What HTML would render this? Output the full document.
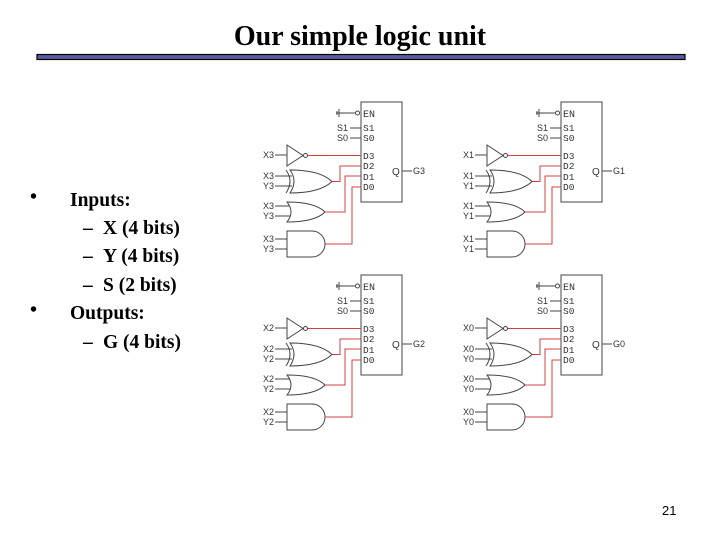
<!DOCTYPE html>
<html><head><meta charset="utf-8"><style>
html,body{margin:0;padding:0;background:#fff;}
body{width:720px;height:540px;overflow:hidden;}
</style></head><body>
<svg width="720" height="540" xmlns="http://www.w3.org/2000/svg">
<defs>
<g id="blk" font-family="Liberation Sans, sans-serif" font-size="9" fill="#333">
  <rect x="361" y="102" width="41" height="100" fill="none" stroke="#444" stroke-width="1"/>
  <line x1="336" y1="113" x2="355" y2="113" stroke="#444"/>
  <line x1="339" y1="109" x2="339" y2="117" stroke="#444"/>
  <line x1="337" y1="111" x2="337" y2="115" stroke="#444"/>
  <circle cx="357.5" cy="113" r="2" fill="#fff" stroke="#444"/>
  <text x="363" y="117" font-family="Liberation Mono, monospace" font-size="10">EN</text>
  <text x="337" y="131">S1</text><line x1="350" y1="128" x2="361" y2="128" stroke="#444"/>
  <text x="337" y="141">S0</text><line x1="350" y1="138" x2="361" y2="138" stroke="#444"/>
  <g font-family="Liberation Mono, monospace" font-size="9.5">
  <text x="363" y="131">S1</text><text x="363" y="141">S0</text>
  <text x="363" y="159">D3</text><text x="363" y="169">D2</text>
  <text x="363" y="180">D1</text><text x="363" y="190">D0</text>
  </g>
  <text x="392" y="175" font-size="10">Q</text>
  <line x1="402" y1="171" x2="412" y2="171" stroke="#444"/>
  <line x1="275" y1="155" x2="287" y2="155" stroke="#444"/>
  <path d="M287 145 L287 166 L303 155.5 Z" fill="#fff" stroke="#444"/>
  <circle cx="305.5" cy="155.5" r="2" fill="#fff" stroke="#444"/>
  <line x1="275" y1="176" x2="292" y2="176" stroke="#444"/>
  <line x1="275" y1="186" x2="292" y2="186" stroke="#444"/>
  <path d="M286 170 Q294 181 286 193" fill="none" stroke="#444"/>
  <path d="M290 170 Q320 170 332 181.5 Q320 193 290 193 Q298 181 290 170 Z" fill="#fff" stroke="#444"/>
  <line x1="275" y1="206" x2="291" y2="206" stroke="#444"/>
  <line x1="275" y1="216" x2="291" y2="216" stroke="#444"/>
  <path d="M287 202 Q315 202 325 212 Q315 222 287 222 Q295 212 287 202 Z" fill="#fff" stroke="#444"/>
  <line x1="275" y1="239" x2="287" y2="239" stroke="#444"/>
  <line x1="275" y1="249" x2="287" y2="249" stroke="#444"/>
  <path d="M287 231 L312 231 A13 13 0 0 1 312 257 L287 257 Z" fill="#fff" stroke="#444"/>
  <g fill="none" stroke="#d04040" stroke-width="1">
   <path d="M308 155.5 L361 155.5"/>
   <path d="M332 181.5 L340 181.5 L340 166 L361 166"/>
   <path d="M325 212 L345 212 L345 176 L361 176"/>
   <path d="M325 244 L352 244 L352 187 L361 187"/>
  </g>
</g>
</defs>

<text x="360" y="45" text-anchor="middle" font-family="Liberation Serif, serif" font-size="28" font-weight="bold">Our simple logic unit</text>
<rect x="37" y="54.5" width="648" height="5" fill="#5a5aa0" stroke="#000" stroke-width="1.2"/>

<g font-family="Liberation Serif, serif" font-size="19.5" font-weight="bold" fill="#000">
<text x="30" y="203" font-size="20">•</text><text x="70" y="206">Inputs:</text>
<text x="83" y="234">–</text><text x="103" y="234">X (4 bits)</text>
<text x="83" y="262">–</text><text x="103" y="262">Y (4 bits)</text>
<text x="83" y="291">–</text><text x="103" y="291">S (2 bits)</text>
<text x="30" y="316" font-size="20">•</text><text x="70" y="319">Outputs:</text>
<text x="83" y="348">–</text><text x="103" y="348">G (4 bits)</text>
</g>

<g font-family="Liberation Sans, sans-serif" font-size="9" fill="#333">
<use href="#blk"/>
<text x="263" y="158">X3</text><text x="263" y="179">X3</text><text x="263" y="189">Y3</text>
<text x="263" y="209">X3</text><text x="263" y="219">Y3</text><text x="263" y="242">X3</text><text x="263" y="252">Y3</text>
<text x="413" y="174">G3</text>

<use href="#blk" transform="translate(200,0)"/>
<text x="463" y="158">X1</text><text x="463" y="179">X1</text><text x="463" y="189">Y1</text>
<text x="463" y="209">X1</text><text x="463" y="219">Y1</text><text x="463" y="242">X1</text><text x="463" y="252">Y1</text>
<text x="613" y="174">G1</text>

<use href="#blk" transform="translate(0,173)"/>
<text x="263" y="331">X2</text><text x="263" y="352">X2</text><text x="263" y="362">Y2</text>
<text x="263" y="382">X2</text><text x="263" y="392">Y2</text><text x="263" y="415">X2</text><text x="263" y="425">Y2</text>
<text x="413" y="347">G2</text>

<use href="#blk" transform="translate(200,173)"/>
<text x="463" y="331">X0</text><text x="463" y="352">X0</text><text x="463" y="362">Y0</text>
<text x="463" y="382">X0</text><text x="463" y="392">Y0</text><text x="463" y="415">X0</text><text x="463" y="425">Y0</text>
<text x="613" y="347">G0</text>
</g>

<text x="662" y="515" font-family="Liberation Sans, sans-serif" font-size="13">21</text>
</svg>
</body></html>
